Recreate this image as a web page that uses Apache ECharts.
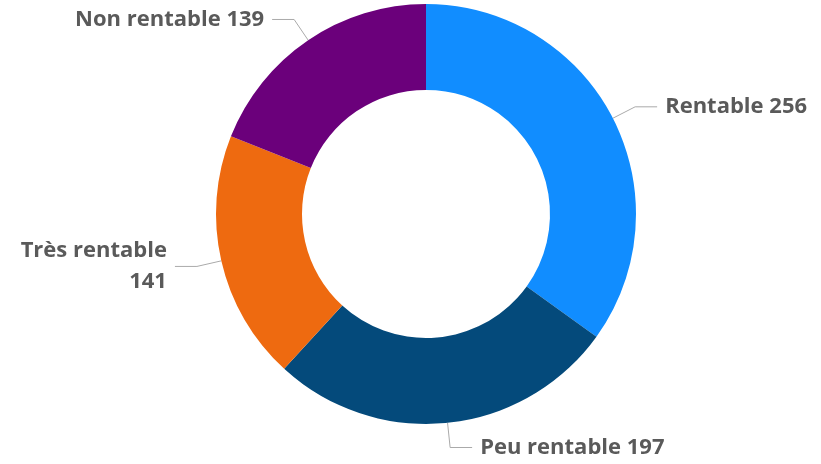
<!DOCTYPE html>
<html>
<head>
<meta charset="utf-8">
<script src="https://cdn.jsdelivr.net/npm/echarts@6/dist/echarts.min.js"></script>
<style>
  html, body { margin: 0; padding: 0; background: #fff; }
  #chart { width: 821px; height: 464px; }
</style>
</head>
<body>
<div id="chart"></div>
<script>
// catégories et valeurs du donut
var categories = ['Rentable', 'Peu rentable', 'Très rentable', 'Non rentable']
var values = [256, 197, 141, 139]
var colors = ['#118DFF', '#044A7B', '#EE6A10', '#6B007B']

var chart = echarts.init(document.getElementById('chart'))

var pieData = categories.map(function (name, i) {
  var item = { name: name, value: values[i], itemStyle: { color: colors[i] } }
  // le libellé de gauche passe sur deux lignes
  if (name === 'Très rentable') {
    item.label = { formatter: '{b}\n{c}', align: 'right' }
  }
  return item
})

var option = {
  animation: false,
  series: [
    {
      type: 'pie',
      center: [426, 214],
      radius: [124, 210],
      startAngle: 90,
      clockwise: true,
      avoidLabelOverlap: true,
      label: {
        show: true,
        formatter: '{b} {c}',
        color: '#5A5A5A',
        fontFamily: 'Open Sans',
        fontWeight: 'bold',
        fontSize: 22,
        lineHeight: 31,
        distanceToLabelLine: 8
      },
      labelLine: {
        show: true,
        length: 25,
        length2: 22,
        lineStyle: { color: '#AAAAAA', width: 1 }
      },
      data: pieData
    }
  ]
}

chart.setOption(option)
</script>
</body>
</html>
